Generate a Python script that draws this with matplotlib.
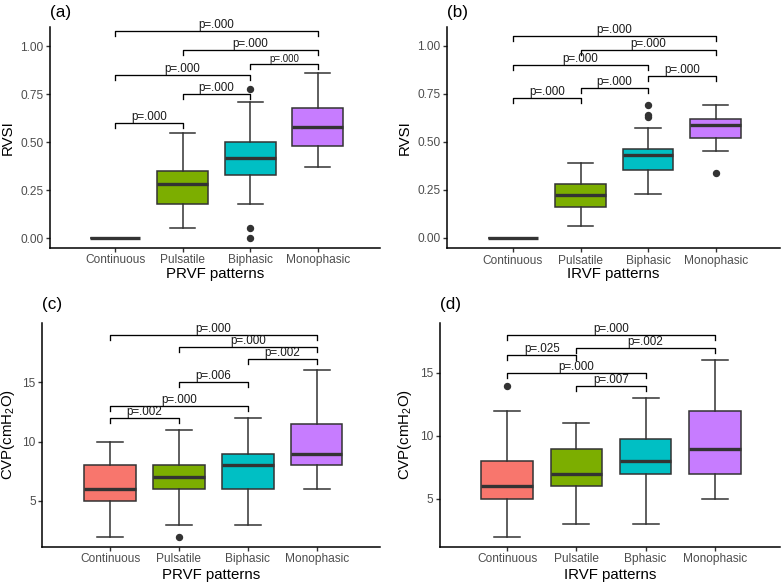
import matplotlib
matplotlib.use('Agg')
import matplotlib.pyplot as plt

plt.rcParams['font.family'] = ['Liberation Sans', 'DejaVu Sans']
plt.rcParams['mathtext.default'] = 'regular'

# categories and fill colours
categories = ['Continuous', 'Pulsatile', 'Biphasic', 'Monophasic']
categories_d = ['Continuous', 'Pulsatile', 'Bphasic', 'Monophasic']
colors = ['#F8766D', '#7CAE00', '#00BFC4', '#C77CFF']

# (a) RVSI by PRVF pattern
a_whislo = [0, 0.05, 0.18, 0.37]
a_q1 = [0, 0.18, 0.33, 0.48]
a_med = [0, 0.28, 0.42, 0.58]
a_q3 = [0, 0.35, 0.50, 0.68]
a_whishi = [0, 0.55, 0.71, 0.86]
a_fliers = [[], [], [0.78, 0.05, 0.0], []]
a_pairs = [(1, 4), (2, 4), (3, 4), (1, 3), (2, 3), (1, 2)]
a_heights = [1.08, 0.98, 0.91, 0.85, 0.75, 0.60]
a_labels = ['p=.000', 'p=.000', 'p=.000', 'p=.000', 'p=.000', 'p=.000']
a_sizes = [8.4, 8.4, 7.0, 8.4, 8.4, 8.4]

# (b) RVSI by IRVF pattern
b_whislo = [0, 0.06, 0.23, 0.45]
b_q1 = [0, 0.16, 0.355, 0.52]
b_med = [0, 0.225, 0.43, 0.59]
b_q3 = [0, 0.28, 0.465, 0.62]
b_whishi = [0, 0.39, 0.57, 0.69]
b_fliers = [[], [], [0.69, 0.64, 0.63], [0.34]]
b_pairs = [(1, 4), (2, 4), (1, 3), (3, 4), (2, 3), (1, 2)]
b_heights = [1.05, 0.98, 0.90, 0.845, 0.78, 0.73]
b_labels = ['p=.000', 'p=.000', 'p=.000', 'p=.000', 'p=.000', 'p=.000']

# (c) CVP by PRVF pattern
c_whislo = [2, 3, 3, 6]
c_q1 = [5, 6, 6, 8]
c_med = [6, 7, 8, 9]
c_q3 = [8, 8, 9, 11.5]
c_whishi = [10, 11, 12, 16]
c_fliers = [[], [2], [], []]
c_pairs = [(1, 4), (2, 4), (3, 4), (2, 3), (1, 3), (1, 2)]
c_heights = [19, 18, 17, 15, 13, 12]
c_labels = ['p=.000', 'p=.000', 'p=.002', 'p=.006', 'p=.000', 'p=.002']

# (d) CVP by IRVF pattern
d_whislo = [2, 3, 3, 5]
d_q1 = [5, 6, 7, 7]
d_med = [6, 7, 8, 9]
d_q3 = [8, 9, 9.75, 12]
d_whishi = [12, 11, 13, 16]
d_fliers = [[14], [], [], []]
d_pairs = [(1, 4), (2, 4), (1, 2), (1, 3), (2, 3)]
d_heights = [18, 17, 16.4, 15, 14]
d_labels = ['p=.000', 'p=.002', 'p=.025', 'p=.000', 'p=.007']

W, H = 783, 584
fig = plt.figure(figsize=(W / 100, H / 100), dpi=100)


def make_ax(left, right, top, bottom):
    return fig.add_axes([left / W, 1 - bottom / H, (right - left) / W, (bottom - top) / H])


def draw_panel(ax, whislo, q1, med, q3, whishi, fliers, cats, pairs, heights, labels,
               sizes, xlim, ylim, yticks, yticklabels, xlabel, ylabel, tag):
    stats = []
    for i in range(4):
        stats.append(dict(whislo=whislo[i], q1=q1[i], med=med[i], q3=q3[i],
                          whishi=whishi[i], fliers=fliers[i]))
    bp = ax.bxp(stats, positions=[1, 2, 3, 4], widths=0.75, capwidths=0.375,
                patch_artist=True, showfliers=True,
                boxprops=dict(edgecolor='#333333', linewidth=1.1),
                medianprops=dict(color='#333333', linewidth=2.4, solid_capstyle='butt'),
                whiskerprops=dict(color='#333333', linewidth=1.1),
                capprops=dict(color='#333333', linewidth=1.1),
                flierprops=dict(marker='o', markerfacecolor='#333333',
                                markeredgecolor='#333333', markersize=4.3))
    for patch, col in zip(bp['boxes'], colors):
        patch.set_facecolor(col)

    ax.set_xlim(*xlim)
    ax.set_ylim(*ylim)
    tip = 0.023 * (ylim[1] - ylim[0])
    for (x1, x2), h, lab, fs in zip(pairs, heights, labels, sizes):
        ax.plot([x1, x1, x2, x2], [h - tip, h, h, h - tip], color='black', lw=0.95,
                clip_on=False)
        ax.text((x1 + x2) / 2, h, lab, ha='center', va='bottom', fontsize=fs,
                color='#1a1a1a')

    ax.set_xticks([1, 2, 3, 4])
    ax.set_xticklabels(cats)
    ax.set_yticks(yticks)
    ax.set_yticklabels(yticklabels)
    ax.tick_params(axis='both', colors='#333333', labelcolor='#4D4D4D', labelsize=8.6,
                   length=2.6, width=1.0, pad=2.2)
    for s in ['top', 'right']:
        ax.spines[s].set_visible(False)
    for s in ['left', 'bottom']:
        ax.spines[s].set_linewidth(1.1)
        ax.spines[s].set_color('black')

    ax.set_xlabel(xlabel, fontsize=10.8, va='center')
    ax.set_ylabel(ylabel, fontsize=10.8, va='center')
    return ax


rvsi_ticks = [0, 0.25, 0.5, 0.75, 1.0]
rvsi_labels = ['0.00', '0.25', '0.50', '0.75', '1.00']
cvp_ticks = [5, 10, 15]
cvp_labels = ['5', '10', '15']
normal = [8.4] * 6

ax_a = make_ax(50, 380, 26.7, 247.7)
draw_panel(ax_a, a_whislo, a_q1, a_med, a_q3, a_whishi, a_fliers, categories,
           a_pairs, a_heights, a_labels, a_sizes, (0.038, 4.92), (-0.0505, 1.103),
           rvsi_ticks, rvsi_labels, 'PRVF patterns', 'RVSI', '(a)')

ax_b = make_ax(447.3, 780, 26.7, 248.3)
draw_panel(ax_b, b_whislo, b_q1, b_med, b_q3, b_whishi, b_fliers, categories,
           b_pairs, b_heights, b_labels, normal, (0.03, 4.95), (-0.054, 1.099),
           rvsi_ticks, rvsi_labels, 'IRVF patterns', 'RVSI', '(b)')

ax_c = make_ax(42.3, 380, 323.3, 546.7)
draw_panel(ax_c, c_whislo, c_q1, c_med, c_q3, c_whishi, c_fliers, categories,
           c_pairs, c_heights, c_labels, normal, (0.017, 4.92), (1.15, 19.97),
           cvp_ticks, cvp_labels, 'PRVF patterns', 'CVP(cmH$_2$O)', '(c)')

ax_d = make_ax(440, 780, 323.3, 546.7)
draw_panel(ax_d, d_whislo, d_q1, d_med, d_q3, d_whishi, d_fliers, categories_d,
           d_pairs, d_heights, d_labels, normal, (0.026, 4.945), (1.21, 18.94),
           cvp_ticks, cvp_labels, 'IRVF patterns', 'CVP(cmH$_2$O)', '(d)')

# axis title positions, panel tags (pixel positions)
for ax, left, right, top, bottom, ylab_x, xlab_y, tag, tag_y in [
        (ax_a, 50, 380, 26.7, 247.7, 8, 274, '(a)', 12),
        (ax_b, 447.3, 780, 26.7, 248.3, 405, 274, '(b)', 12),
        (ax_c, 42.3, 380, 323.3, 546.7, 8, 575, '(c)', 305),
        (ax_d, 440, 780, 323.3, 546.7, 405, 575, '(d)', 305)]:
    w = right - left
    h = bottom - top
    ax.yaxis.set_label_coords((ylab_x - left) / w, 0.5)
    ax.xaxis.set_label_coords(0.5, -(xlab_y - bottom) / h)
    fig.text(left / W, 1 - tag_y / H, tag, fontsize=12.3, ha='left', va='center')

fig.savefig('out.png', dpi=100)
